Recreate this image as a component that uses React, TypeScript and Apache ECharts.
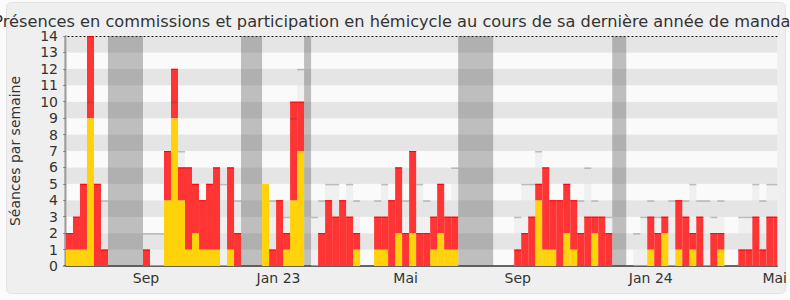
import React, { useEffect, useRef } from "react";
import * as echarts from "echarts";

const chartTitle =
  "Présences en commissions et participation en hémicycle au cours de sa dernière année de mandat";
const yAxisName = "Séances par semaine";

// Séances per week (top of the stacked bar), week index = array index
const totalSeances = [
  2, 3, 5, 14, 5, 1, 0, 0, 0, 0,
  0, 1, 0, 0, 7, 12, 6, 6, 5, 4,
  5, 6, 0, 6, 2, 0, 0, 0, 5, 1,
  4, 2, 10, 10, 0, 0, 2, 4, 3, 4,
  3, 2, 0, 0, 3, 3, 4, 6, 2, 7,
  2, 2, 3, 5, 3, 3, 0, 0, 0, 0,
  0, 0, 0, 0, 1, 2, 3, 5, 6, 4,
  4, 5, 4, 2, 3, 3, 3, 2, 0, 0,
  0, 0, 0, 3, 2, 3, 0, 4, 3, 2,
  3, 0, 2, 2, 0, 0, 1, 1, 3, 1,
  3, 3,
];

// Participation en hémicycle (yellow part)
const hemicycle = [
  1, 1, 1, 9, 0, 0, 0, 0, 0, 0,
  0, 0, 0, 0, 4, 9, 4, 1, 2, 1,
  1, 1, 0, 1, 0, 0, 0, 0, 5, 0,
  0, 1, 4, 7, 0, 0, 0, 0, 0, 0,
  0, 1, 0, 0, 1, 1, 0, 2, 0, 2,
  0, 0, 1, 2, 1, 1, 0, 0, 0, 0,
  0, 0, 0, 0, 0, 0, 0, 4, 1, 1,
  0, 2, 1, 0, 0, 2, 0, 0, 0, 0,
  0, 0, 0, 1, 0, 2, 0, 1, 0, 1,
  0, 0, 0, 1, 0, 0, 0, 0, 0, 0,
  0, 0,
];

// Médiane des députés (light grey bars), null where not visible
const mediane: (number | null)[] = [
  null, null, null, 10, null, 4, null, null, null, null,
  null, 2, 2, 2, null, 10, 7, null, null, null,
  null, null, 5, null, 4, null, null, null, null, 4,
  null, 3, 9, 12, null, 3, 4, 5, 5, null,
  5, 4, null, null, 4, 5, null, null, 4, null,
  5, 4, null, null, null, 6, null, null, null, null,
  null, null, null, null, 3, 5, 5, 7, null, null,
  null, null, null, 4, 6, 4, null, 3, null, null,
  null, 2, 3, 4, 3, null, 4, null, 4, 5,
  4, 4, 3, 4, null, null, 3, 3, 5, 4,
  5, 5,
];

// Vacances parlementaires [start week, end week)
const vacances = [
  [-1, 0],
  [6, 11],
  [25, 28],
  [34, 35],
  [56, 61],
  [78, 80],
];

const xTickPos = [11.42, 30.35, 48.5, 64.5, 83.5, 101.2];
const xTickLabels = ["Sep", "Jan 23", "Mai", "Sep", "Jan 24", "Mai"];

const AXIS_MIN = -0.28;
const AXIS_MAX = 101.56;
const FONT = "DejaVu Sans";

function rectFor(params: any, api: any, x0: number, x1: number, y0: number, y1: number) {
  const cs = params.coordSys;
  const a = api.coord([x0, y0]);
  const b = api.coord([x1, y1]);
  const left = Math.max(Math.min(a[0], b[0]), cs.x);
  const right = Math.min(Math.max(a[0], b[0]), cs.x + cs.width);
  const top = Math.max(Math.min(a[1], b[1]), cs.y);
  const bottom = Math.min(Math.max(a[1], b[1]), cs.y + cs.height);
  if (right <= left || bottom <= top) return null;
  return { x: left, y: top, width: right - left, height: bottom - top };
}

export default function App() {
  const ref = useRef<HTMLDivElement>(null);

  useEffect(() => {
    const chart = echarts.init(ref.current!, undefined, { renderer: "svg" });

    const yellowData = hemicycle
      .map((h, k) => [k, h])
      .filter((d) => d[1] > 0);
    const redData = totalSeances
      .map((t, k) => [k, hemicycle[k], t])
      .filter((d) => d[2] > d[1]);
    const medData = mediane
      .map((m, k) => [k, m])
      .filter((d) => d[1] !== null) as number[][];

    const option: any = {
      animation: false,
      backgroundColor: "transparent",
      textStyle: { fontFamily: FONT },
      title: {
        text: chartTitle,
        left: "center",
        top: 8,
        textStyle: { fontFamily: FONT, fontSize: 16.2, fontWeight: "normal", color: "#333" },
      },
      grid: { left: 62, top: 36, width: 718, height: 230, containLabel: false },
      xAxis: [
        {
          type: "value",
          min: AXIS_MIN,
          max: AXIS_MAX,
          axisLine: { show: true, onZero: false, lineStyle: { color: "#333", width: 1.5 } },
          axisTick: { show: false },
          splitLine: { show: false },
          axisLabel: {
            show: true,
            customValues: xTickPos,
            margin: 5,
            fontFamily: FONT,
            fontSize: 14,
            color: "#333",
            formatter: (v: number) => {
              const i = xTickPos.findIndex((p) => Math.abs(p - v) < 1e-6);
              return i >= 0 ? xTickLabels[i] : "";
            },
          },
        },
        {
          type: "value",
          position: "top",
          min: AXIS_MIN,
          max: AXIS_MAX,
          axisLine: { show: true, onZero: false, lineStyle: { color: "#000", width: 1, type: [1, 3] } },
          axisTick: { show: false },
          axisLabel: { show: false },
          splitLine: { show: false },
        },
      ],
      yAxis: [
        {
          type: "value",
          min: 0,
          max: 14,
          interval: 1,
          name: yAxisName,
          nameLocation: "middle",
          nameGap: 42,
          nameTextStyle: { fontFamily: FONT, fontSize: 14, color: "#333" },
          axisLine: { show: true, lineStyle: { color: "#333", width: 1.5 } },
          axisTick: { show: true, length: 3, lineStyle: { color: "#999" } },
          axisLabel: { margin: 6, fontFamily: FONT, fontSize: 14, color: "#333" },
          splitLine: { show: false },
          splitArea: { show: true, areaStyle: { color: ["#fafafa", "#e5e5e5"] } },
        },
        {
          type: "value",
          position: "right",
          min: 0,
          max: 14,
          axisLine: { show: true, lineStyle: { color: "#c8c8c8", width: 2 } },
          axisTick: { show: false },
          axisLabel: { show: false },
          splitLine: { show: false },
          splitArea: { show: false },
        },
      ],
      series: [
        {
          type: "custom",
          name: "vacances",
          z: 1,
          silent: true,
          data: vacances,
          encode: { x: [0, 1] },
          renderItem: (params: any, api: any) => {
            const r = rectFor(params, api, api.value(0), api.value(1), 0, 14);
            if (!r) return null;
            return { type: "rect", shape: r, style: { fill: "rgba(78,78,78,0.35)" } };
          },
        },
        {
          type: "custom",
          name: "médiane",
          z: 2,
          silent: true,
          data: medData,
          encode: { x: 0, y: 1 },
          renderItem: (params: any, api: any) => {
            const k = api.value(0);
            const r = rectFor(params, api, k, k + 1, 0, api.value(1));
            if (!r) return null;
            return { type: "rect", shape: r, style: { fill: "rgba(229,229,229,0.45)" } };
          },
        },
        {
          type: "custom",
          name: "hémicycle",
          z: 3,
          silent: true,
          data: yellowData,
          encode: { x: 0, y: 1 },
          renderItem: (params: any, api: any) => {
            const k = api.value(0);
            const r = rectFor(params, api, k, k + 1, 0, api.value(1));
            if (!r) return null;
            return { type: "rect", shape: r, style: { fill: "#ffd20a" } };
          },
        },
        {
          type: "custom",
          name: "commissions",
          z: 3,
          silent: true,
          data: redData,
          encode: { x: 0, y: [1, 2] },
          renderItem: (params: any, api: any) => {
            const k = api.value(0);
            const r = rectFor(params, api, k, k + 1, api.value(1), api.value(2));
            if (!r) return null;
            return {
              type: "group",
              children: [
                { type: "rect", shape: r, style: { fill: "#ff3535" } },
                {
                  type: "line",
                  shape: { x1: r.x, y1: r.y + 0.5, x2: r.x + r.width, y2: r.y + 0.5 },
                  style: { stroke: "#ff0000", lineWidth: 1 },
                },
              ],
            };
          },
        },
        {
          type: "custom",
          name: "médiane-ligne",
          z: 4,
          silent: true,
          data: medData,
          encode: { x: 0, y: 1 },
          renderItem: (params: any, api: any) => {
            const k = api.value(0);
            const r = rectFor(params, api, k, k + 1, 0, api.value(1));
            if (!r) return null;
            return {
              type: "line",
              shape: { x1: r.x, y1: r.y + 0.75, x2: r.x + r.width, y2: r.y + 0.75 },
              style: { stroke: "rgba(70,70,70,0.3)", lineWidth: 1.5 },
            };
          },
        },
      ],
    };

    chart.setOption(option);
    return () => chart.dispose();
  }, []);

  return (
    <div style={{ position: "fixed", left: 0, top: 0, width: 790, height: 300, background: "#fbfbfb" }}>
      <div
        style={{
          position: "absolute",
          left: 6,
          top: 2,
          width: 778,
          height: 290,
          background: "#efefef",
          border: "1px solid #e2e2e2",
          borderRadius: 5,
        }}
      />
      <div ref={ref} style={{ position: "absolute", left: 0, top: 0, width: 790, height: 300 }} />
    </div>
  );
}
